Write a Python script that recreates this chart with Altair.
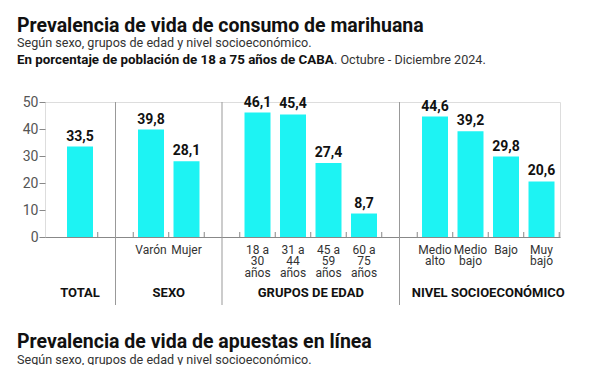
import altair as alt
import pandas as pd

# ---------------- data ----------------
groups = ["TOTAL", "SEXO", "GRUPOS DE EDAD", "NIVEL SOCIOECONÓMICO"]
group_categories = [
    ["Total"],
    ["Varón", "Mujer"],
    ["18 a|30|años", "31 a|44|años", "45 a|59|años", "60 a|75|años"],
    ["Medio|alto", "Medio|bajo", "Bajo", "Muy|bajo"],
]
group_values = [
    [33.5],
    [39.8, 28.1],
    [46.1, 45.4, 27.4, 8.7],
    [44.6, 39.2, 29.8, 20.6],
]
gap_keys = [" ", "  ", "   "]
group_anchor = ["Total", "Mujer", "45 a|59|años", "Bajo"]
y_ticks = [0, 10, 20, 30, 40, 50]

title = "Prevalencia de vida de consumo de marihuana"
subtitle = "Según sexo, grupos de edad y nivel socioeconómico."
note_bold = "En porcentaje de población de 18 a 75 años de CABA"
note_regular = ". Octubre - Diciembre 2024."
title2 = "Prevalencia de vida de apuestas en línea"
subtitle2 = "Según sexo, grupos de edad y nivel socioeconómico."

# ---------------- tables ----------------
domain = []
rows = []
for i, cats in enumerate(group_categories):
    if i > 0:
        domain.append(gap_keys[i - 1])
    domain += cats
    for c, v in zip(cats, group_values[i]):
        rows.append({"category": c, "value": v, "group": groups[i]})
bars_df = pd.DataFrame(rows)
gaps_df = pd.DataFrame({"category": gap_keys})
ticks_df = pd.DataFrame({"category": domain})
glab_df = pd.DataFrame({"group": groups, "anchor": group_anchor})

FONT = "Roboto"
W, H = 515, 135
BAR = "#1df3f3"

xscale = alt.Scale(domain=domain, paddingInner=0.268, paddingOuter=0.3875,
                   align=0.8, round=False)
yscale = alt.Scale(domain=[0, 50])

xaxis = alt.Axis(orient="bottom", ticks=False, tickSize=0, domain=True, title=None,
                 domainColor="#888", labelAngle=0, labelPadding=7,
                 labelFont=FONT, labelFontSize=12, labelColor="#333",
                 labelLineHeight=11.5, labelLimit=200,
                 labelExpr="datum.value == 'Total' ? '' : split(datum.value, '|')")
yaxis = alt.Axis(values=y_ticks, domain=False, grid=False, title=None,
                 tickSize=6, tickColor="#888", labelPadding=1,
                 labelFont=FONT, labelFontSize=14, labelColor="#555")

base = alt.Chart(bars_df)

bars = base.mark_bar(color=BAR).encode(
    x=alt.X("category:N", scale=xscale, axis=xaxis, title=None),
    y=alt.Y("value:Q", scale=yscale, axis=yaxis, title=None),
)

values = base.mark_text(baseline="bottom", dy=-3, font=FONT, fontSize=14,
                        fontWeight="bold", color="#111").transform_calculate(
    label="replace(format(datum.value, '.1f'), '.', ',')"
).encode(
    x=alt.X("category:N", scale=xscale, axis=xaxis, title=None),
    y=alt.Y("value:Q", scale=yscale, axis=yaxis, title=None),
    text="label:N",
)

seps = alt.Chart(gaps_df).mark_rule(color="#999", strokeWidth=1).encode(
    x=alt.X("category:N", scale=xscale, axis=xaxis, title=None),
    y=alt.value(0),
    y2=alt.value(203),
)

# small upward ticks on the baseline between bars
xticks = alt.Chart(ticks_df).mark_rule(color="#888", strokeWidth=1, xOffset=4.75).encode(
    x=alt.X("category:N", scale=xscale, axis=xaxis, title=None, bandPosition=1),
    y=alt.value(H - 5),
    y2=alt.value(H),
)

glab_total = alt.Chart(glab_df.iloc[:1]).mark_text(
    font=FONT, fontSize=13, fontWeight="bold", color="#111", baseline="middle"
).encode(
    x=alt.X("anchor:N", scale=xscale, axis=xaxis, title=None),
    y=alt.value(191),
    text="group:N",
)
glab_rest = alt.Chart(glab_df.iloc[1:]).mark_text(
    font=FONT, fontSize=13, fontWeight="bold", color="#111", baseline="middle",
    xOffset=-4.75
).encode(
    x=alt.X("anchor:N", scale=xscale, axis=xaxis, title=None, bandPosition=0),
    y=alt.value(191),
    text="group:N",
)


def txt(s, x, y, size, weight="normal", color="#111"):
    return alt.Chart(pd.DataFrame({"t": [s]})).mark_text(
        align="left", baseline="alphabetic", font=FONT, fontSize=size,
        fontWeight=weight, color=color
    ).encode(x=alt.value(x), y=alt.value(y), text="t:N")


headers = [
    txt(title, -28, -70, 19.5, "bold"),
    txt(subtitle, -28, -55, 12.6, "normal", "#333"),
    txt(note_bold, -28, -38, 13.35, "bold"),
    txt(note_regular, 289, -38, 12.6, "normal", "#333"),
    txt(title2, -28, 246, 19.5, "bold"),
    txt(subtitle2, -28, 262, 12.6, "normal", "#333"),
]

chart = alt.layer(bars, values, seps, xticks, glab_total, glab_rest, *headers).properties(
    width=W, height=H,
    autosize=alt.AutoSizeParams(type="none"),
    padding={"left": 37, "top": 94, "right": 32, "bottom": 132},
).configure_view(stroke=None).configure(background="white")

chart.save("out.html", embed_options={"renderer": "svg", "actions": False})
